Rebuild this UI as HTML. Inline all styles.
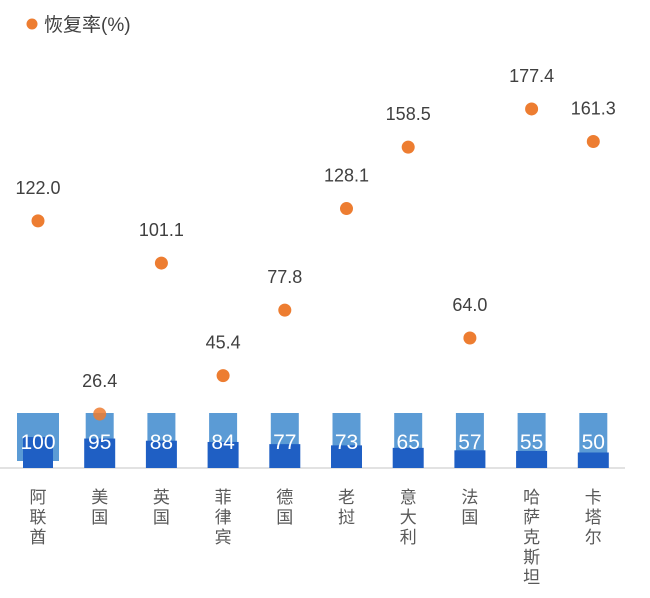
<!DOCTYPE html>
<html><head><meta charset="utf-8"><style>
body{margin:0;background:#fff;}
svg{display:block;font-family:"Liberation Sans","Noto Sans CJK SC",sans-serif;}
</style></head><body>
<svg id="chart" width="650" height="598">
<g>
<circle cx="32" cy="24" r="5.5" fill="#ED7D31"></circle>
<text x="44" y="31" font-size="19" fill="#404040">恢复率(%)</text>
</g>
<line x1="0" y1="468" x2="625" y2="468" stroke="#D9D9D9" stroke-width="1.5"></line>
<g id="marks"></g>
</svg>
<script>
const categories=["阿联酋","美国","英国","菲律宾","德国","老挝","意大利","法国","哈萨克斯坦","卡塔尔"];
const barValues=[100,95,88,84,77,73,65,57,55,50];
const recoveryRates=[122.0,26.4,101.1,45.4,77.8,128.1,158.5,64.0,177.4,161.3];
const NS="http://www.w3.org/2000/svg";
const g=document.getElementById('marks');
const x0=38,step=61.7,base=468;
function xPos(i){return x0+i*step;}
function barY(v){return base-0.31*v;}
function dotY(v){return 467.3-2.02*v;}
function mk(t,a){const e=document.createElementNS(NS,t);for(const k in a)e.setAttribute(k,a[k]);g.appendChild(e);return e;}
categories.forEach((c,i)=>{
  const cx=xPos(i);
  const w=i===0?42:28;
  const bg=mk('rect',{x:cx-w/2,y:413,width:w,height:i===0?48:55,fill:'#5B9BD5'});
  
  
  const dw=i===0?30:31;
  const by=barY(barValues[i]);
  const b=mk('rect',{x:cx-dw/2,y:by,width:dw,height:base-by,fill:'#1F5FC4'});
  
  
  const t=mk('text',{x:cx,y:449,'font-size':21,fill:'#fff','text-anchor':'middle'});
  t.textContent=barValues[i];
  
  
  const dy=dotY(recoveryRates[i]);
  const d=mk('circle',{cx:cx,cy:dy,r:6.5,fill:'#ED7D31','fill-opacity':i===1?0.85:1});
  
  
  const dl=mk('text',{x:cx,y:dy-27,'font-size':18,fill:'#404040','text-anchor':'middle'});
  dl.textContent=recoveryRates[i].toFixed(1);
  
  
  const lab=mk('text',{x:cx,'font-size':17,fill:'#595959','text-anchor':'middle'});
  
  
  [...c].forEach((ch,k)=>{const ts=document.createElementNS(NS,'tspan');ts.setAttribute('x',cx);ts.setAttribute('y',503+k*20);ts.textContent=ch;lab.appendChild(ts);});
});
</script>
</body></html>
